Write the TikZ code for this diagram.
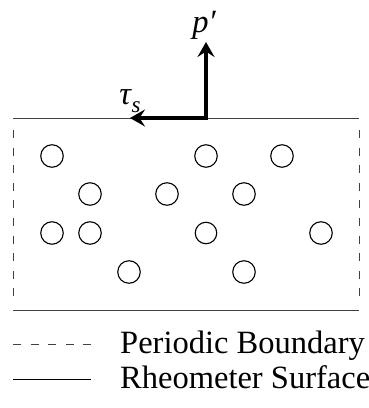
\documentclass[tikz,border=0pt]{standalone}
\usepackage{fontspec}
\setmainfont{Liberation Serif}
\usetikzlibrary{arrows.meta}
\begin{document}
\begin{tikzpicture}[x=1pt,y=-1pt,
  particle/.style={draw,circle,line width=1.1pt,minimum size=22.5pt,inner sep=0pt},
  surface/.style={line width=1pt,black!75},
  periodic/.style={line width=1pt,black!75,dash pattern=on 8pt off 9.6pt},
  force/.style={line width=3.4pt,-{Stealth[length=15pt,width=17pt,inset=5.5pt]}},
  lbl/.style={font=\fontsize{32.5}{38}\selectfont,inner sep=0pt}]
\useasboundingbox (0,0) rectangle (369,408);
% surfaces
\coordinate (tl) at (13,118);
\coordinate (tr) at (359,118);
\coordinate (bl) at (13,310);
\coordinate (br) at (359,310);
\draw[surface] (tl) -- (tr);
\draw[surface] (bl) -- (br);
% periodic boundaries
\coordinate (l1) at (13,130);
\coordinate (l2) at (13,298);
\coordinate (r1) at (359,130);
\coordinate (r2) at (359,298);
\draw[periodic] (l1) -- (l2);
\draw[periodic] (r1) -- (r2);
% particles
\node[particle] (c1) at (52,156) {};
\node[particle] (c2) at (206,156) {};
\node[particle] (c3) at (282,156) {};
\node[particle] (c4) at (90,194) {};
\node[particle] (c5) at (167,194) {};
\node[particle] (c6) at (244,194) {};
\node[particle] (c7) at (52,233) {};
\node[particle] (c8) at (90,233) {};
\node[particle,minimum size=21.5pt] (c9) at (206,233) {};
\node[particle] (c10) at (321,233) {};
\node[particle] (c11) at (129,272) {};
\node[particle] (c12) at (244,272) {};
% forces
\coordinate (o) at (206,118);
\coordinate (up) at (206,42);
\coordinate (left) at (130,118);
\draw[force] ([xshift=1.7pt]o) -- (left);
\draw[force] ([yshift=1.7pt]o) -- (up);
\node[lbl] (p) at (204,25) {\itshape p′};
\node[lbl] (tau) at (130,101) {\itshape τ\kern0.5pt\raisebox{-0.25em}{\fontsize{23}{23}\selectfont s}};
% legend
\coordinate (d1) at (13,344);
\coordinate (d2) at (91,344);
\coordinate (s1) at (13,379);
\coordinate (s2) at (91,379);
\draw[periodic] (d1) -- (d2);
\draw[surface,black] (s1) -- (s2);
\node[lbl,anchor=base west] (pb) at (120,353) {Periodic Boundary};
\node[lbl,anchor=base west] (rs) at (120,388) {Rheometer Surface};
\end{tikzpicture}
\end{document}
